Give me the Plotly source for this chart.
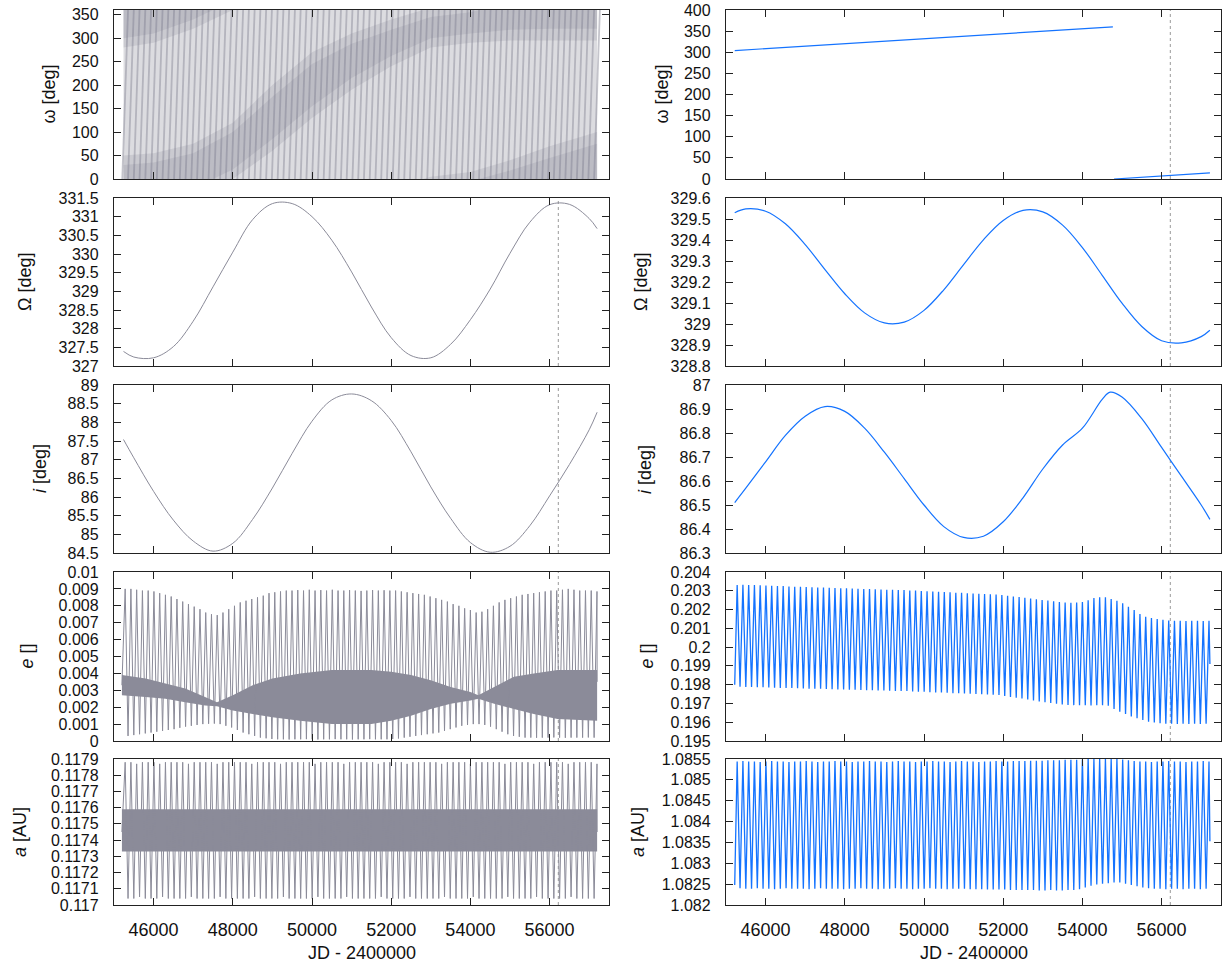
import numpy as np
import plotly.graph_objects as go

W, H = 1223, 967
GREY = 'rgb(139,139,153)'
BLUE = 'rgb(20,115,255)'
AXC = '#222222'
FONT = 'Liberation Sans, Arial, sans-serif'

# ---------------- x axis ----------------
x_range = [45000, 57500]
x_ticks = [46000, 48000, 50000, 52000, 54000, 56000]
x_ticklabels = ['46000', '48000', '50000', '52000', '54000', '56000']
jd_marker = 56220

# cycle grid (time of each ~145 d spike)
cyc_first_peak = 45282
cyc_period = 145.3
n_cyc = 83

# ---------------- right column (blue) ----------------
omR_seg1_t = [45220, 54770]
omR_seg1 = [304.0, 360.0]
omR_seg2_t = [54800, 57220]
omR_seg2 = [0.0, 14.4]

OmR_t = [45220, 45500, 46000, 46500, 47000, 47500, 48000, 48500, 49000, 49500, 50000,
         50500, 51000, 51500, 52000, 52500, 53000, 53500, 54000, 54500, 55000, 55500,
         56000, 56500, 57000, 57220]
OmR = [329.53, 329.548, 329.537, 329.477, 329.378, 329.259, 329.144, 329.053, 329.005,
       329.009, 329.065, 329.163, 329.283, 329.401, 329.493, 329.541, 329.534, 329.471,
       329.364, 329.232, 329.099, 328.988, 328.92, 328.91, 328.94, 328.97]

iR_t = [45220, 45500, 46000, 46500, 47000, 47500, 48000, 48500, 49000, 49500, 50000,
        50500, 51000, 51500, 52000, 52500, 53000, 53500, 54000, 54500, 54700, 55000,
        55500, 56000, 56500, 57000, 57220]
iR = [86.51, 86.57, 86.68, 86.79, 86.87, 86.91, 86.89, 86.82, 86.72, 86.61, 86.5,
      86.41, 86.365, 86.37, 86.43, 86.53, 86.65, 86.75, 86.82, 86.94, 86.97, 86.95,
      86.86, 86.74, 86.62, 86.5, 86.44]

eR_start, eR_end = 0.1980, 0.1991
eR_peak = [0.20331, 0.20332, 0.20331, 0.2033, 0.20329, 0.20328, 0.20327, 0.20326, 0.20325, 0.20323,
           0.20322, 0.20321, 0.2032, 0.20319, 0.20318, 0.20317, 0.20316, 0.20315, 0.20314, 0.20313,
           0.20312, 0.20311, 0.2031, 0.20309, 0.20308, 0.20307, 0.20306, 0.20305, 0.20304, 0.20304,
           0.20302, 0.20301, 0.20299, 0.20298, 0.20296, 0.20295, 0.20293, 0.20292, 0.2029, 0.20289,
           0.20287, 0.20286, 0.20284, 0.20283, 0.20281, 0.2028, 0.20278, 0.20274, 0.2027, 0.20267,
           0.20263, 0.20259, 0.20255, 0.20251, 0.20248, 0.20244, 0.2024, 0.20237, 0.20236, 0.20237,
           0.2024, 0.2025, 0.20262, 0.20266, 0.20266, 0.20256, 0.20247, 0.20233, 0.20215, 0.20198,
           0.20176, 0.20162, 0.20155, 0.2015, 0.20145, 0.20142, 0.2014, 0.2014, 0.20139, 0.2014,
           0.2014, 0.20139, 0.2014]
eR_trough = [0.19789, 0.19788, 0.19788, 0.19787, 0.19786, 0.19785, 0.19784, 0.19783, 0.19783, 0.19782,
             0.19781, 0.1978, 0.19779, 0.19778, 0.19778, 0.19777, 0.19776, 0.19775, 0.19774, 0.19773,
             0.19773, 0.19772, 0.19771, 0.1977, 0.19769, 0.19769, 0.19768, 0.19767, 0.19766, 0.19766,
             0.19764, 0.19763, 0.19762, 0.1976, 0.19759, 0.19758, 0.19757, 0.19755, 0.19754, 0.19753,
             0.19752, 0.1975, 0.19749, 0.19748, 0.19747, 0.19745, 0.1974, 0.19735, 0.1973, 0.19726,
             0.19721, 0.19716, 0.19711, 0.19706, 0.19702, 0.19698, 0.19695, 0.19692, 0.19691, 0.1969,
             0.1969, 0.19689, 0.1969, 0.1969, 0.19688, 0.1967, 0.19656, 0.19644, 0.1963, 0.19621,
             0.19612, 0.19603, 0.19598, 0.19594, 0.19592, 0.19592, 0.19591, 0.19592, 0.19591, 0.19592,
             0.19591, 0.19592]

aR_start, aR_end = 1.08248, 1.08353
aR_peak = [1.08544, 1.08545, 1.08544, 1.08544, 1.08543, 1.08544, 1.08545, 1.08544, 1.08544, 1.08543,
           1.08544, 1.08544, 1.08545, 1.08544, 1.08543, 1.08544, 1.08544, 1.08545, 1.08544, 1.08544,
           1.08543, 1.08544, 1.08544, 1.08545, 1.08544, 1.08544, 1.08543, 1.08544, 1.08545, 1.08544,
           1.08544, 1.08543, 1.08544, 1.08544, 1.08545, 1.08544, 1.08544, 1.08543, 1.08544, 1.08545,
           1.08544, 1.08544, 1.08543, 1.08544, 1.08544, 1.08545, 1.08544, 1.08544, 1.08545, 1.08545,
           1.08545, 1.08546, 1.08546, 1.08546, 1.08547, 1.08547, 1.08547, 1.08548, 1.08548, 1.08548,
           1.08549, 1.0855, 1.0855, 1.0855, 1.0855, 1.0855, 1.0855, 1.08549, 1.08547, 1.08545,
           1.08544, 1.08544, 1.08543, 1.08544, 1.08544, 1.08545, 1.08544, 1.08544, 1.08543, 1.08544,
           1.08544, 1.08545, 1.08544]
aR_trough = [1.0824, 1.08239, 1.08239, 1.0824, 1.08239, 1.08239, 1.08238, 1.08239, 1.0824, 1.08239,
             1.08239, 1.08239, 1.08238, 1.08239, 1.0824, 1.08239, 1.08239, 1.08239, 1.08238, 1.08239,
             1.08239, 1.0824, 1.08239, 1.08239, 1.08238, 1.08239, 1.08239, 1.0824, 1.08239, 1.08239,
             1.08238, 1.08239, 1.08239, 1.0824, 1.08239, 1.08239, 1.08238, 1.08239, 1.08239, 1.08239,
             1.08238, 1.08238, 1.08238, 1.08237, 1.08237, 1.08237, 1.08237, 1.08236, 1.08236, 1.08236,
             1.08236, 1.08236, 1.08235, 1.08235, 1.08236, 1.08235, 1.08235, 1.08236, 1.08236, 1.08238,
             1.08242, 1.08246, 1.08249, 1.08251, 1.08252, 1.08254, 1.08254, 1.08251, 1.08248, 1.08245,
             1.08242, 1.0824, 1.08239, 1.08239, 1.08238, 1.08239, 1.08239, 1.08238, 1.08239, 1.08239,
             1.08238, 1.08239]

# ---------------- left column (grey) ----------------
omL_wrap = [0.0, 360.0]
omL_cover_t = [45240, 57200]
omL_band_t = [45240, 46000, 47000, 48000, 49000, 50000, 51000, 52000, 53000, 54000, 55000, 56000, 57200]
omL_band_lo = [-80, -70, -40, 0, 60, 130, 190, 240, 280, 290, 295, 295, 295]
omL_band_hi = [50, 55, 75, 120, 200, 270, 310, 340, 365, 375, 400, 430, 460]
omL_core_lo = [-60, -50, -20, 20, 85, 155, 215, 262, 300, 310, 318, 320, 320]
omL_core_hi = [30, 35, 55, 100, 175, 245, 288, 318, 345, 355, 378, 405, 435]

OmL_t = [45240, 45500, 46000, 46500, 47000, 47500, 48000, 48500, 49000, 49500, 50000, 50500,
         51000, 51500, 52000, 52500, 53000, 53500, 54000, 54500, 55000, 55500, 56000, 56500,
         57000, 57200]
OmL = [327.39, 327.24, 327.22, 327.52, 328.2, 329.12, 330.05, 330.92, 331.35, 331.35, 331.0,
       330.37, 329.52, 328.58, 327.76, 327.28, 327.22, 327.58, 328.24, 329.06, 330.02, 330.85,
       331.32, 331.33, 330.95, 330.68]

iL_t = [45240, 45500, 46000, 46500, 47000, 47500, 48000, 48500, 49000, 49500, 50000, 50500,
        51000, 51500, 52000, 52500, 53000, 53500, 54000, 54500, 55000, 55500, 56000, 56500,
        57000, 57200]
iL = [87.54, 87.05, 86.15, 85.38, 84.82, 84.55, 84.76, 85.4, 86.24, 87.17, 88.03, 88.6, 88.76,
      88.58, 88.05, 87.21, 86.27, 85.43, 84.78, 84.52, 84.68, 85.23, 86.03, 86.87, 87.8, 88.27]

eL_start, eL_end = 0.0033, 0.0035
eL_peak = [0.009, 0.009, 0.00895, 0.0089, 0.0089, 0.00885, 0.00875, 0.00865, 0.00855, 0.0084,
           0.00825, 0.0081, 0.00795, 0.0078, 0.0076, 0.0075, 0.00745, 0.0076, 0.0078, 0.008,
           0.0082, 0.0083, 0.0084, 0.0085, 0.0086, 0.00875, 0.0088, 0.00885, 0.0089, 0.0089,
           0.00893, 0.0089, 0.00895, 0.0089, 0.00893, 0.0089, 0.00895, 0.0089, 0.0089, 0.00893,
           0.0089, 0.00888, 0.0089, 0.00893, 0.0089, 0.00892, 0.0089, 0.0089, 0.00885, 0.0088,
           0.00875, 0.0087, 0.00865, 0.00855, 0.00845, 0.00835, 0.00825, 0.0081, 0.008, 0.00785,
           0.00775, 0.0076, 0.00765, 0.0078, 0.008, 0.0082, 0.00835, 0.00845, 0.00855, 0.00865,
           0.0087, 0.00875, 0.0088, 0.00885, 0.0089, 0.0089, 0.00895, 0.009, 0.00895, 0.0089,
           0.0089, 0.0089, 0.00885]
eL_trough = [0.0003, 0.00035, 0.0004, 0.00045, 0.0005, 0.00055, 0.0006, 0.00065, 0.0007, 0.00078,
             0.00085, 0.0009, 0.00095, 0.001, 0.00102, 0.00103, 0.001, 0.0009, 0.0008, 0.00065,
             0.0005, 0.0004, 0.0003, 0.0002, 0.00016, 0.00012, 0.0001, 0.0001, 0.00009, 0.0001,
             0.0001, 0.00011, 0.0001, 0.00009, 0.0001, 0.0001, 0.00011, 0.0001, 0.0001, 0.00009,
             0.0001, 0.0001, 0.00011, 0.0001, 0.0001, 0.0001, 0.00012, 0.00015, 0.0002, 0.00025,
             0.0003, 0.00035, 0.0004, 0.00045, 0.0005, 0.0006, 0.0007, 0.0008, 0.0009, 0.00095,
             0.001, 0.001, 0.00095, 0.00085, 0.0007, 0.00055, 0.0004, 0.0003, 0.00025, 0.0002,
             0.0002, 0.00019, 0.0002, 0.0002, 0.00021, 0.0002, 0.00019, 0.0002, 0.0002, 0.0002,
             0.00021, 0.0002]
eL_band_t = [45200, 45800, 46300, 46800, 47300, 47600, 48000, 48500, 49000, 49700, 50500, 51500,
             52000, 52500, 53000, 53500, 54000, 54200, 54600, 55100, 55600, 56200, 57200]
eL_band_lo = [0.0027, 0.0026, 0.0025, 0.0023, 0.0021, 0.00205, 0.0018, 0.0016, 0.0014, 0.0012,
              0.001, 0.001, 0.0012, 0.0015, 0.0019, 0.0022, 0.0024, 0.0025, 0.0022, 0.0019,
              0.0016, 0.0013, 0.0012]
eL_band_hi = [0.0039, 0.0037, 0.0034, 0.0031, 0.0026, 0.0023, 0.0027, 0.0033, 0.0037, 0.004,
              0.0042, 0.0042, 0.0041, 0.0039, 0.0036, 0.0032, 0.0029, 0.0027, 0.0032, 0.0038,
              0.004, 0.0042, 0.0042]

aL_start, aL_end = 0.11745, 0.11745
aL_peak = [0.11788, 0.11788, 0.11787, 0.11788, 0.11788, 0.11788, 0.11787, 0.11788, 0.11788, 0.11788,
           0.11788, 0.11787, 0.11788, 0.11788, 0.11788, 0.11788, 0.11787, 0.11788, 0.11788, 0.11788,
           0.11788, 0.11788, 0.11787, 0.11788, 0.11788, 0.11788, 0.11788, 0.11787, 0.11788, 0.11788,
           0.11788, 0.11788, 0.11788, 0.11787, 0.11788, 0.11788, 0.11788, 0.11788, 0.11787, 0.11788,
           0.11788, 0.11788, 0.11788, 0.11788, 0.11787, 0.11788, 0.11788, 0.11788, 0.11788, 0.11787,
           0.11788, 0.11788, 0.11788, 0.11788, 0.11788, 0.11787, 0.11788, 0.11788, 0.11788, 0.11788,
           0.11787, 0.11788, 0.11788, 0.11788, 0.11788, 0.11788, 0.11787, 0.11788, 0.11788, 0.11788,
           0.11788, 0.11787, 0.11788, 0.11788, 0.11788, 0.11788, 0.11788, 0.11787, 0.11788, 0.11788,
           0.11788, 0.11788, 0.11787]
aL_trough = [0.11704, 0.11704, 0.11705, 0.11704, 0.11704, 0.11704, 0.11705, 0.11704, 0.11704, 0.11704,
             0.11704, 0.11705, 0.11704, 0.11704, 0.11704, 0.11704, 0.11705, 0.11704, 0.11704, 0.11704,
             0.11704, 0.11704, 0.11705, 0.11704, 0.11704, 0.11704, 0.11704, 0.11705, 0.11704, 0.11704,
             0.11704, 0.11704, 0.11704, 0.11705, 0.11704, 0.11704, 0.11704, 0.11704, 0.11705, 0.11704,
             0.11704, 0.11704, 0.11704, 0.11704, 0.11705, 0.11704, 0.11704, 0.11704, 0.11704, 0.11705,
             0.11704, 0.11704, 0.11704, 0.11704, 0.11704, 0.11705, 0.11704, 0.11704, 0.11704, 0.11704,
             0.11705, 0.11704, 0.11704, 0.11704, 0.11704, 0.11704, 0.11705, 0.11704, 0.11704, 0.11704,
             0.11704, 0.11705, 0.11704, 0.11704, 0.11704, 0.11704, 0.11704, 0.11705, 0.11704, 0.11704,
             0.11704, 0.11704]
aL_band_t = [45200, 57200]
aL_band_lo = [0.11733, 0.11733]
aL_band_hi = [0.11759, 0.11759]

# ---------------- axis specs ----------------
yL_specs = [
    dict(r=[0, 360], v=[0, 50, 100, 150, 200, 250, 300, 350],
         t=['0', '50', '100', '150', '200', '250', '300', '350'], title='ω [deg]'),
    dict(r=[327, 331.5], v=[327, 327.5, 328, 328.5, 329, 329.5, 330, 330.5, 331, 331.5],
         t=['327', '327.5', '328', '328.5', '329', '329.5', '330', '330.5', '331', '331.5'], title='Ω [deg]'),
    dict(r=[84.5, 89], v=[84.5, 85, 85.5, 86, 86.5, 87, 87.5, 88, 88.5, 89],
         t=['84.5', '85', '85.5', '86', '86.5', '87', '87.5', '88', '88.5', '89'], title='<i>i</i> [deg]'),
    dict(r=[0, 0.01], v=[0, 0.001, 0.002, 0.003, 0.004, 0.005, 0.006, 0.007, 0.008, 0.009, 0.01],
         t=['0', '0.001', '0.002', '0.003', '0.004', '0.005', '0.006', '0.007', '0.008', '0.009', '0.01'],
         title='<i>e</i> []'),
    dict(r=[0.117, 0.1179], v=[0.117, 0.1171, 0.1172, 0.1173, 0.1174, 0.1175, 0.1176, 0.1177, 0.1178, 0.1179],
         t=['0.117', '0.1171', '0.1172', '0.1173', '0.1174', '0.1175', '0.1176', '0.1177', '0.1178', '0.1179'],
         title='<i>a</i> [AU]'),
]
yR_specs = [
    dict(r=[0, 400], v=[0, 50, 100, 150, 200, 250, 300, 350, 400],
         t=['0', '50', '100', '150', '200', '250', '300', '350', '400'], title='ω [deg]'),
    dict(r=[328.8, 329.6], v=[328.8, 328.9, 329, 329.1, 329.2, 329.3, 329.4, 329.5, 329.6],
         t=['328.8', '328.9', '329', '329.1', '329.2', '329.3', '329.4', '329.5', '329.6'], title='Ω [deg]'),
    dict(r=[86.3, 87], v=[86.3, 86.4, 86.5, 86.6, 86.7, 86.8, 86.9, 87],
         t=['86.3', '86.4', '86.5', '86.6', '86.7', '86.8', '86.9', '87'], title='<i>i</i> [deg]'),
    dict(r=[0.195, 0.204], v=[0.195, 0.196, 0.197, 0.198, 0.199, 0.2, 0.201, 0.202, 0.203, 0.204],
         t=['0.195', '0.196', '0.197', '0.198', '0.199', '0.2', '0.201', '0.202', '0.203', '0.204'],
         title='<i>e</i> []'),
    dict(r=[1.082, 1.0855], v=[1.082, 1.0825, 1.083, 1.0835, 1.084, 1.0845, 1.085, 1.0855],
         t=['1.082', '1.0825', '1.083', '1.0835', '1.084', '1.0845', '1.085', '1.0855'], title='<i>a</i> [AU]'),
]

# ---------------- layout geometry (page pixels) ----------------
rows_px = [(10, 179), (198, 366), (385, 553), (572, 741), (759, 905)]
cols_px = [(114, 609), (726, 1221)]
title_x_px = [[48, 25, 40, 26, 20], [661, 641, 645, 646, 638]]
xlabel_y_px = 953
YTICKFONT = dict(family=FONT, size=16, color='#111111')
XTICKFONT = dict(family=FONT, size=18, color='#111111')


def fx(px):
    return min(1.0, max(0.0, px / W))


def fy(py):
    return min(1.0, max(0.0, 1 - py / H))


fig = go.Figure()
layout = dict(template='none', width=W, height=H, margin=dict(l=0, r=0, t=0, b=0, pad=0),
              paper_bgcolor='white', plot_bgcolor='white', showlegend=False)
annotations = []
shapes = []


def ax_ids(row, col):
    n = row * 2 + col + 1
    return ('x' if n == 1 else f'x{n}'), ('y' if n == 1 else f'y{n}'), n


for col in range(2):
    specs = yL_specs if col == 0 else yR_specs
    for row in range(5):
        xa, ya, n = ax_ids(row, col)
        l, r = cols_px[col]
        t, b = rows_px[row]
        sfx = '' if n == 1 else str(n)
        layout['xaxis' + sfx] = dict(
            domain=[fx(l), fx(r)], range=x_range, anchor=ya, automargin=False,
            tickmode='array', tickvals=x_ticks, ticktext=x_ticklabels,
            showticklabels=(row == 4), ticks='inside', ticklen=7, tickwidth=1.3, tickcolor=AXC,
            mirror='allticks', showline=True, linecolor=AXC, linewidth=1.3,
            showgrid=False, zeroline=False, tickfont=XTICKFONT, ticklabelstandoff=8)
        sp = specs[row]
        layout['yaxis' + sfx] = dict(
            domain=[fy(b), fy(t)], range=sp['r'], anchor=xa, automargin=False,
            tickmode='array', tickvals=sp['v'], ticktext=sp['t'], ticklabeloverflow='allow',
            ticks='inside', ticklen=7, tickwidth=1.3, tickcolor=AXC,
            mirror='allticks', showline=True, linecolor=AXC, linewidth=1.3,
            showgrid=False, zeroline=False, tickfont=YTICKFONT, ticklabelstandoff=11)
        annotations.append(dict(
            text=sp['title'], x=fx(title_x_px[col][row]), y=fy((t + b) / 2),
            xref='paper', yref='paper', showarrow=False, textangle=-90,
            font=dict(family=FONT, size=18, color='#111111'), xanchor='center', yanchor='middle'))
        if not (row == 0 and col == 0):
            shapes.append(dict(type='line', xref=xa, yref=ya + ' domain', x0=jd_marker, x1=jd_marker,
                               y0=0, y1=1, line=dict(color='#999999', width=1, dash='dot'), layer='below'))
    annotations.append(dict(
        text='JD - 2400000', x=fx((cols_px[col][0] + cols_px[col][1]) / 2), y=fy(xlabel_y_px),
        xref='paper', yref='paper', showarrow=False,
        font=dict(family=FONT, size=18, color='#111111'), xanchor='center', yanchor='middle'))

pk_t = cyc_first_peak + cyc_period * np.arange(n_cyc)
tr_t = pk_t[:-1] + cyc_period / 2


def zigzag(t0, v0, peaks, troughs, t1, v1):
    xs, ys = [t0], [v0]
    for k in range(n_cyc):
        xs.append(pk_t[k]); ys.append(peaks[k])
        if k < n_cyc - 1:
            xs.append(tr_t[k]); ys.append(troughs[k])
    xs.append(t1); ys.append(v1)
    return xs, ys


def add_line(x, y, row, col, color, width=1.0, shape='linear', opacity=1.0):
    xa, ya, _ = ax_ids(row, col)
    fig.add_trace(go.Scatter(x=x, y=y, mode='lines', xaxis=xa, yaxis=ya, opacity=opacity,
                             line=dict(color=color, width=width, shape=shape), hoverinfo='skip'))


def add_band(t, lo, hi, row, col, color):
    xa, ya, _ = ax_ids(row, col)
    fig.add_trace(go.Scatter(x=list(t) + list(t)[::-1], y=list(hi) + list(lo)[::-1], mode='lines',
                             fill='toself', fillcolor=color, line=dict(width=0),
                             xaxis=xa, yaxis=ya, hoverinfo='skip'))


# left omega: dotted cover, fast circulation stripes (0 -> 360 each cycle), denser slow band
add_band(omL_cover_t, [omL_wrap[0]] * 2, [omL_wrap[1]] * 2, 0, 0, 'rgba(139,139,153,0.3)')
sx, sy = [], []
for k in range(n_cyc):
    sx += [pk_t[k] - cyc_period / 2, pk_t[k] + cyc_period / 2, None]
    sy += [omL_wrap[0], omL_wrap[1], None]
add_line(sx, sy, 0, 0, 'rgba(139,139,153,0.5)', width=1.8)
for off in (-360, 0, 360):
    add_band(omL_band_t, [v + off for v in omL_band_lo], [v + off for v in omL_band_hi], 0, 0,
             'rgba(120,120,138,0.18)')
    add_band(omL_band_t, [v + off for v in omL_core_lo], [v + off for v in omL_core_hi], 0, 0,
             'rgba(120,120,138,0.16)')

add_line(OmL_t, OmL, 1, 0, GREY, 1.0, 'spline')
add_line(iL_t, iL, 2, 0, GREY, 1.0, 'spline')
add_band(eL_band_t, eL_band_lo, eL_band_hi, 3, 0, GREY)
x, y = zigzag(45200, eL_start, eL_peak, eL_trough, 57200, eL_end)
add_line(x, y, 3, 0, GREY, 1.0)
add_band(aL_band_t, aL_band_lo, aL_band_hi, 4, 0, GREY)
x, y = zigzag(45200, aL_start, aL_peak, aL_trough, 57200, aL_end)
add_line(x, y, 4, 0, GREY, 1.0)

add_line(omR_seg1_t, omR_seg1, 0, 1, BLUE, 1.2)
add_line(omR_seg2_t, omR_seg2, 0, 1, BLUE, 1.2)
add_line(OmR_t, OmR, 1, 1, BLUE, 1.2, 'spline')
add_line(iR_t, iR, 2, 1, BLUE, 1.2, 'spline')
x, y = zigzag(45220, eR_start, eR_peak, eR_trough, 57220, eR_end)
add_line(x, y, 3, 1, BLUE, 1.3)
x, y = zigzag(45220, aR_start, aR_peak, aR_trough, 57220, aR_end)
add_line(x, y, 4, 1, BLUE, 1.3)

layout['annotations'] = annotations
layout['shapes'] = shapes
fig.update_layout(**layout)
# remove the browser's default 8px body margin so the figure fills the 1223x967 window exactly
fig.write_html('out.html', config={'displayModeBar': False},
               post_script="document.body.style.margin='0px';document.body.style.overflow='hidden';")
